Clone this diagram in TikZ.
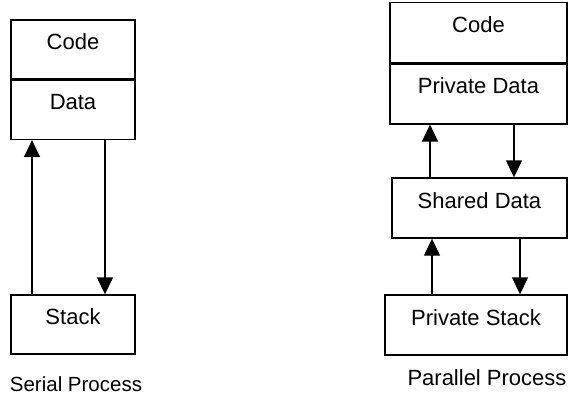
\documentclass[tikz,border=0pt]{standalone}
\usepackage{fontspec}
\setmainfont{Liberation Sans}
\usepackage{tikz}
\usetikzlibrary{arrows.meta,positioning}

\begin{document}
\begin{tikzpicture}[x=1pt,y=-1pt,node distance=0pt,>={Triangle[length=17pt,width=16pt]}, every node/.style={font=\fontsize{22}{26}\selectfont}]
\tikzstyle{cell}=[draw, line width=1.4pt, inner sep=0pt, minimum height=59pt, text height=15pt, text depth=15pt]
\tikzstyle{link}=[->, line width=1.4pt]
\useasboundingbox (0,0) rectangle (568,396);
% serial process
\node[cell, minimum width=124pt] (code) at (73,49.5) {Code};
\node[cell, minimum width=124pt, below=of code] (data) {Data};
\node[cell, minimum width=124pt] (stack) at (73,324.5) {Stack};
\draw[link] ([xshift=-41pt]stack.north) -- ([xshift=-41pt]data.south);
\draw[link] ([xshift=32pt]data.south) -- ([xshift=32pt]stack.north);
\node[font=\fontsize{20.5}{25}\selectfont] (serial) at (76,384) {Serial Process};
% parallel process
\node[cell, minimum width=177pt, minimum height=60pt] (pcode) at (478.5,32.5) {Code};
\node[cell, minimum width=177pt, minimum height=60pt, below=of pcode] (pdata) {Private Data};
\node[cell, minimum width=175pt, minimum height=60pt] (shared) at (479.5,208) {Shared Data};
\node[cell, minimum width=182pt, minimum height=60pt] (pstack) at (476,325) {Private Stack};
\draw[link] ([xshift=-49.5pt]shared.north) -- ([xshift=-49.5pt]shared.north |- pdata.south);
\draw[link] ([xshift=35.5pt]pdata.south) -- ([xshift=35.5pt]pdata.south |- shared.north);
\draw[link] ([xshift=-44pt]pstack.north) -- ([xshift=-44pt]pstack.north |- shared.south);
\draw[link] ([xshift=40.5pt]shared.south) -- ([xshift=40.5pt]shared.south |- pstack.north);
\node (parallel) at (487,378) {Parallel Process};
\end{tikzpicture}
\end{document}
